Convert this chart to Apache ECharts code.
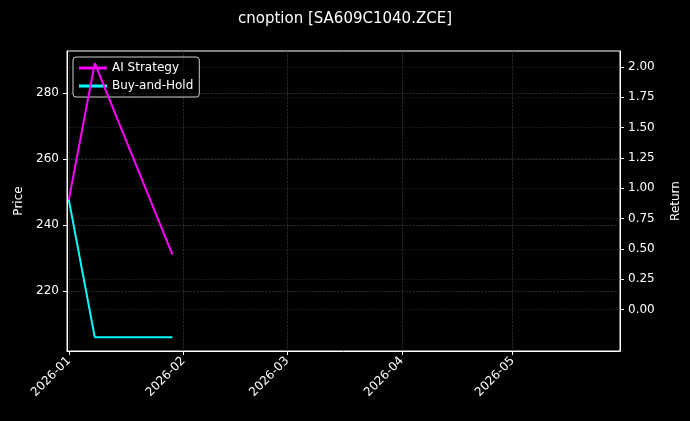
<!DOCTYPE html>
<html>
<head>
<meta charset="utf-8">
<script src="https://cdn.jsdelivr.net/npm/echarts@6.0.0/dist/echarts.min.js"></script>
<style>html,body{margin:0;background:#000}#chart{width:690px;height:421px}</style>
</head>
<body>
<div id="chart"></div>
<script>
var DAY = 86400000;
var dates = ['2026-01-01', '2026-01-08', '2026-01-29'];
var aiStrategy = [247.6, 289.0, 231.0];
var buyHold = [247.6, 206.0, 206.0];
var monthTicks = ['2026-01-01', '2026-02-01', '2026-03-01', '2026-04-01', '2026-05-01'];
var priceTicks = [220, 240, 260, 280];
var returnTicks = [0, 0.25, 0.5, 0.75, 1, 1.25, 1.5, 1.75, 2];

function ts(s) { return Date.parse(s + 'T00:00:00Z'); }
var monthVals = monthTicks.map(ts);
var xMin = ts('2026-01-01') - 0.5 * DAY;
var xMax = ts('2026-05-30');

function pairs(vals) {
    return dates.map(function (d, i) { return [ts(d), vals[i]]; });
}

var gridLine = { show: true, lineStyle: { color: '#444', type: 'dashed', width: 0.6 } };
var txt = { color: '#fff', fontSize: 12, fontFamily: 'DejaVu Sans' };

var chart = echarts.init(document.getElementById('chart'));
chart.setOption({
    backgroundColor: '#000',
    animation: false,
    title: {
        text: 'cnoption [SA609C1040.ZCE]', left: 'center', top: 7,
        textStyle: { color: '#fff', fontSize: 15, fontWeight: 'normal', fontFamily: 'DejaVu Sans' }
    },
    legend: {
        left: 73, top: 57, orient: 'vertical', itemGap: 6, z: 1,
        backgroundColor: 'rgba(0,0,0,0.5)', borderColor: '#ccc', borderWidth: 1, borderRadius: 3,
        padding: [5, 6, 5, 6], itemWidth: 28, itemHeight: 3, icon: 'rect',
        textStyle: txt,
        data: ['AI Strategy', 'Buy-and-Hold']
    },
    grid: { left: 67, right: 70, top: 51, bottom: 70, show: true, borderColor: '#fff', borderWidth: 1 },
    xAxis: {
        type: 'value', min: xMin, max: xMax,
        axisLine: { onZero: false, lineStyle: { color: '#fff' } },
        axisTick: { customValues: monthVals, lineStyle: { color: '#fff' }, length: 4 },
        axisLabel: {
            customValues: monthVals, rotate: 45, color: '#fff', fontSize: 12, fontFamily: 'DejaVu Sans',
            formatter: function (v) { var d = new Date(v); return d.getUTCFullYear() + '-' + String(d.getUTCMonth() + 1).padStart(2, '0'); }
        },
        splitLine: gridLine
    },
    yAxis: [{
        type: 'value', min: 201.8, max: 292.7, name: 'Price', nameLocation: 'middle', nameGap: 42,
        nameTextStyle: txt,
        axisLine: { show: true, onZero: false, lineStyle: { color: '#fff' } },
        axisTick: { show: true, customValues: priceTicks, length: 4, lineStyle: { color: '#fff' } },
        axisLabel: Object.assign({ customValues: priceTicks }, txt),
        splitLine: gridLine
    }, {
        type: 'value', min: -0.34, max: 2.13, name: 'Return', nameLocation: 'middle', nameGap: 50,
        nameTextStyle: txt,
        axisLine: { show: true, onZero: false, lineStyle: { color: '#fff' } },
        axisTick: { show: true, customValues: returnTicks, length: 4, lineStyle: { color: '#fff' } },
        axisLabel: Object.assign({ customValues: returnTicks, formatter: function (v) { return v.toFixed(2); } }, txt),
        splitLine: { show: true, lineStyle: { color: '#333', type: 'dotted', width: 0.6 } }
    }],
    series: [{
        name: 'AI Strategy', type: 'line', data: pairs(aiStrategy), showSymbol: false, z: 5,
        lineStyle: { color: '#ff00ff', width: 2 }, itemStyle: { color: '#ff00ff' }
    }, {
        name: 'Buy-and-Hold', type: 'line', data: pairs(buyHold), showSymbol: false, z: 5,
        lineStyle: { color: '#00ffff', width: 2 }, itemStyle: { color: '#00ffff' }
    }]
});
</script>
</body>
</html>
